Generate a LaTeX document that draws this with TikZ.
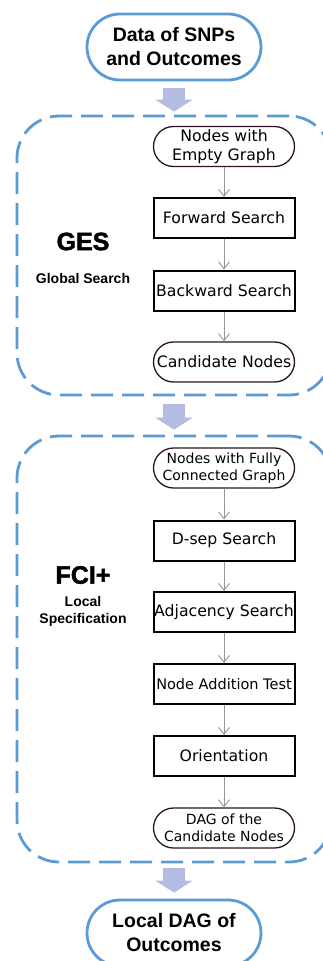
\documentclass[tikz,border=0pt]{standalone}
\usepackage{fontspec}
\usetikzlibrary{arrows.meta}
\newfontfamily\boxfont{DejaVu Sans}
\newfontfamily\titlefont{Liberation Sans}
\newfontfamily\heavyfont[FakeBold=2]{Liberation Sans Bold}
\definecolor{frameblue}{RGB}{91,155,213}
\definecolor{arrowlav}{RGB}{180,188,226}
\definecolor{linkgray}{RGB}{150,150,150}
\definecolor{pillrim}{RGB}{45,20,35}
\tikzstyle{every picture}+=[x=1pt,y=-1pt]
\tikzstyle{endpill}=[draw=frameblue, line width=2.8pt, rounded corners=33pt, minimum width=174pt, minimum height=66pt, align=center, font=\titlefont\bfseries\fontsize{19.5}{24}\selectfont]
\tikzstyle{grpbox}=[draw=frameblue, line width=2.8pt, dash pattern=on 22pt off 9pt, rounded corners=42pt]
\tikzstyle{stepbox}=[draw=black, line width=2pt, minimum width=141pt, minimum height=40pt, inner sep=0pt, font=\boxfont\fontsize{15.7}{18.7}\selectfont]
\tikzstyle{steppill}=[draw=pillrim, line width=1.3pt, rounded corners=20pt, minimum width=141pt, minimum height=40pt, inner sep=0pt, align=center, font=\boxfont\fontsize{15.7}{18.7}\selectfont]
\tikzstyle{smallpill}=[steppill, font=\boxfont\fontsize{14}{17}\selectfont]
\tikzstyle{link}=[draw=linkgray, line width=0.9pt, -{Straight Barb[length=7pt,width=11pt]}]
\tikzstyle{bigarrow}=[draw=arrowlav, line width=22pt, -{Triangle[length=12pt,width=37pt]}]

\begin{document}
\begin{tikzpicture}
%\draw[help lines, step=20] (0,0) grid (323,961);
\useasboundingbox (0,0) rectangle (323,961);
\clip (0,0) rectangle (323,961);

\node[endpill] (data) at (174,47) {Data of SNPs\\and Outcomes};%input

\node[grpbox, minimum width=314pt, minimum height=279pt] (ges) at (174,255.5) {};%first stage
\node[font=\heavyfont\fontsize{25}{25}\selectfont] (gesname) at (83,241.5) {GES};
\node[font=\titlefont\bfseries\fontsize{14}{17}\selectfont] (gesrole) at (83,278) {Global Search};

\node[steppill] (empty) at (224,146.5) {Nodes with\\Empty Graph};
\node[stepbox] (fwd) at (224,218) {Forward Search};
\node[stepbox] (bwd) at (224,290.5) {Backward Search};
\node[steppill] (cand) at (224,362) {Candidate Nodes};

\node[grpbox, minimum width=314pt, minimum height=426pt] (fci) at (174,649) {};%second stage
\node[font=\heavyfont\fontsize{25}{25}\selectfont] (fciname) at (83,575) {FCI+};
\node[font=\titlefont\bfseries\fontsize{14}{17}\selectfont, align=center] (fcirole) at (83,611.5) {Local\\Specification};

\node[smallpill] (full) at (224,468) {Nodes with Fully\\Connected Graph};
\node[stepbox] (dsep) at (224,540.5) {D-sep Search};
\node[stepbox] (adj) at (224,612) {Adjacency Search};
\node[stepbox, font=\boxfont\fontsize{14.5}{17}\selectfont] (addtest) at (224,684) {Node Addition Test};
\node[stepbox] (orient) at (224,756) {Orientation};
\node[smallpill] (dag) at (224,828) {DAG of the\\Candidate Nodes};

\node[endpill] (localdag) at (174,933) {Local DAG of\\Outcomes};%output

\draw[link] (empty) -- (fwd);
\draw[link] (fwd) -- (bwd);
\draw[link] (bwd) -- (cand);
\draw[link] (full) -- (dsep);
\draw[link] (dsep) -- (adj);
\draw[link] (adj) -- (addtest);
\draw[link] (addtest) -- (orient);
\draw[link] (orient) -- (dag);

\draw[bigarrow, shorten <=7pt, shorten >=3pt] (data) -- (ges);%between stages
\draw[bigarrow, shorten <=8pt, shorten >=5pt] (ges) -- (fci);
\draw[bigarrow, shorten <=5pt, shorten >=6pt] (fci) -- (localdag);
\end{tikzpicture}
\end{document}
